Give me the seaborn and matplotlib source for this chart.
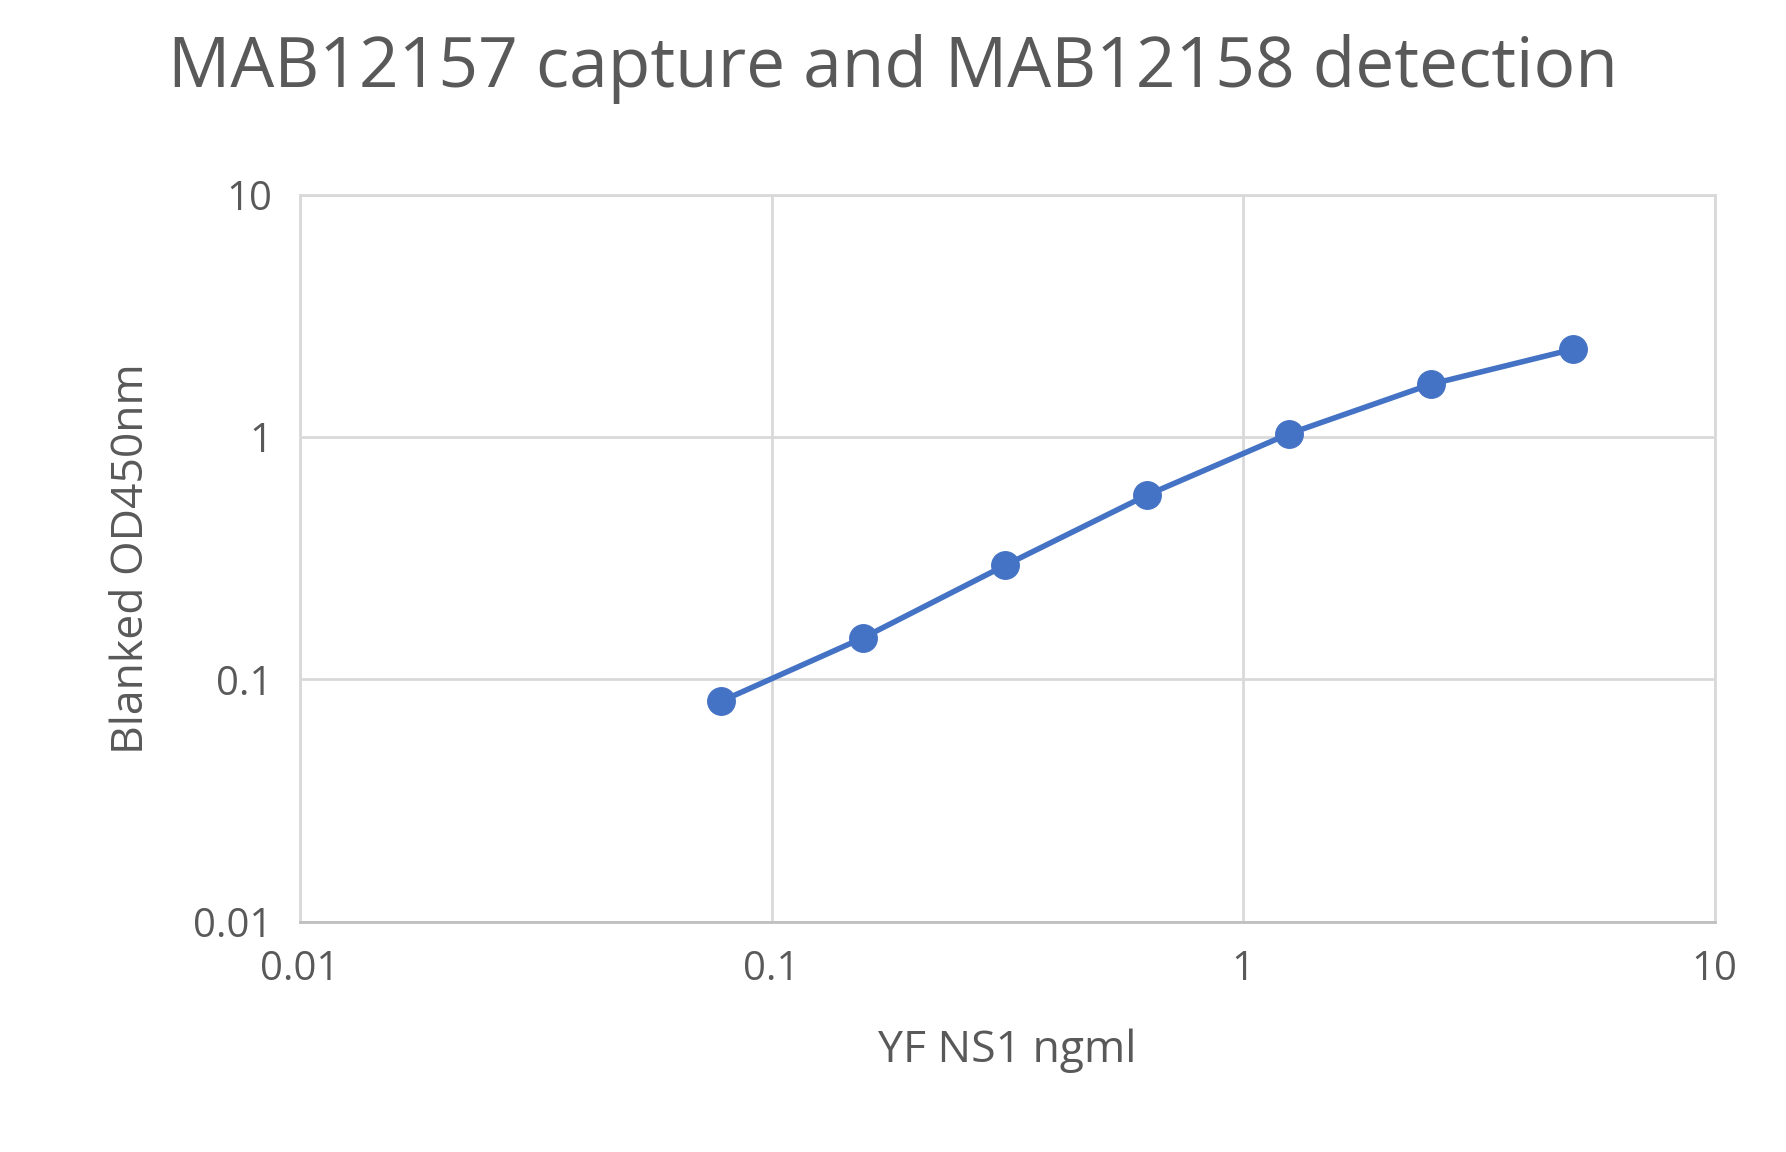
import matplotlib
matplotlib.use("Agg")
import matplotlib.pyplot as plt
import seaborn as sns
import pandas as pd
from matplotlib.ticker import FixedLocator, FixedFormatter, NullLocator

conc = [0.078, 0.156, 0.3125, 0.625, 1.25, 2.5, 5.0]
od = [0.081, 0.148, 0.295, 0.575, 1.03, 1.65, 2.3]
ticks = [0.01, 0.1, 1, 10]
tick_labels = ["0.01", "0.1", "1", "10"]

sns.set_style("white")
plt.rcParams['font.family'] = ['Open Sans', 'DejaVu Sans']
fig = plt.figure(figsize=(17.86, 11.52), dpi=100)
ax = fig.add_axes([0.168, 0.20, 0.792, 0.631])
df = pd.DataFrame({"x": conc, "y": od})
col = "#4472C4"
sns.lineplot(data=df, x="x", y="y", ax=ax, color=col, linewidth=4,
             marker="o", markersize=20, markeredgecolor=col)
ax.set_xscale("log"); ax.set_yscale("log")
ax.set_xlim(0.01, 10); ax.set_ylim(0.01, 10)
for a in (ax.xaxis, ax.yaxis):
    a.set_major_locator(FixedLocator(ticks))
    a.set_major_formatter(FixedFormatter(tick_labels))
    a.set_minor_locator(NullLocator())
ax.grid(True, color="#d9d9d9", linewidth=2)
for s in ax.spines.values():
    s.set_color("#d9d9d9"); s.set_linewidth(2)
ax.spines['bottom'].set_color("#bfbfbf")
ax.tick_params(labelsize=29, colors="#595959", length=0, pad=20)
ax.set_xlabel("YF NS1 ngml", fontsize=32, color="#595959", labelpad=28)
ax.set_ylabel("Blanked OD450nm", fontsize=32, color="#595959", labelpad=28)
fig.suptitle("MAB12157 capture and MAB12158 detection", fontsize=50,
             color="#595959", x=0.50, y=0.94, va="center")
fig.savefig("out.png", dpi=100, facecolor="white")
